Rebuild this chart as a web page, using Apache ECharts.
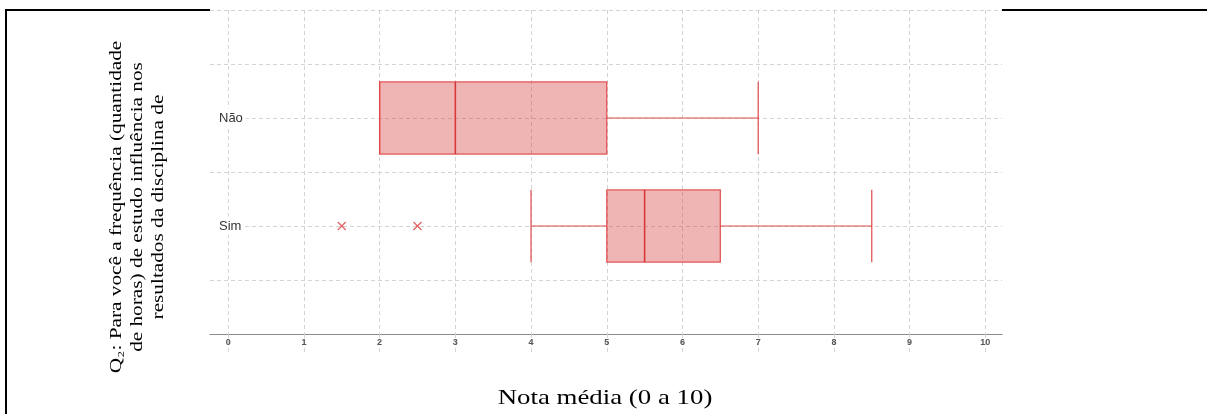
<!DOCTYPE html>
<html>
<head>
<meta charset="utf-8">
<script src="https://cdn.jsdelivr.net/npm/echarts@6/dist/echarts.min.js"></script>
<style>
html, body { margin: 0; padding: 0; background: #fff; }
#main { width: 1207px; height: 414px; }
</style>
</head>
<body>
<div id="main"></div>
<script>
// categorias (de baixo para cima)
var categories = ['Sim', 'Não'];
// [min, Q1, mediana, Q3, max] de cada categoria
var boxValues = [
    [4, 5, 5.5, 6.5, 8.5],
    [2, 2, 3, 5, 7]
];
// outliers: [indice da categoria, nota]
var outliers = [[0, 1.5], [0, 2.5]];
var xTicks = [0, 1, 2, 3, 4, 5, 6, 7, 8, 9, 10];
var yLabelPos = [1, 2];

var chart = echarts.init(document.getElementById('main'));

var gridColor = '#d4d4d4';
var dash = [4, 3];

function renderBox(params, api) {
    var yc = api.value(0);
    var p = function (v) { return api.coord([v, yc]); };
    var pMin = p(api.value(1)), pQ1 = p(api.value(2)), pMed = p(api.value(3));
    var pQ3 = p(api.value(4)), pMax = p(api.value(5));
    var y = pMin[1];
    var half = api.size([0, 1])[1] * 0.335;
    var lineStyle = { stroke: '#e04a4a', lineWidth: 1.2 };
    return {
        type: 'group',
        children: [
            { type: 'line', shape: { x1: pMin[0], y1: y, x2: pQ1[0], y2: y }, style: lineStyle },
            { type: 'line', shape: { x1: pQ3[0], y1: y, x2: pMax[0], y2: y }, style: lineStyle },
            { type: 'rect', shape: { x: pQ1[0], y: y - half, width: pQ3[0] - pQ1[0], height: half * 2 },
              style: { fill: 'rgba(210,40,40,0.35)', stroke: 'rgba(222,45,45,0.75)', lineWidth: 1.3 } },
            { type: 'line', shape: { x1: pMed[0], y1: y - half, x2: pMed[0], y2: y + half },
              style: { stroke: '#d63a3a', lineWidth: 1.6 } },
            { type: 'line', shape: { x1: pMin[0], y1: y - half, x2: pMin[0], y2: y + half }, style: lineStyle },
            { type: 'line', shape: { x1: pMax[0], y1: y - half, x2: pMax[0], y2: y + half }, style: lineStyle }
        ]
    };
}

function renderCross(params, api) {
    var c = api.coord([api.value(0), api.value(1)]);
    var s = 4;
    var st = { stroke: '#e05a5a', lineWidth: 1.1 };
    return {
        type: 'group',
        children: [
            { type: 'line', shape: { x1: c[0] - s, y1: c[1] - s, x2: c[0] + s, y2: c[1] + s }, style: st },
            { type: 'line', shape: { x1: c[0] - s, y1: c[1] + s, x2: c[0] + s, y2: c[1] - s }, style: st }
        ]
    };
}

var boxData = boxValues.map(function (b, i) { return [i + 1].concat(b); });
var outlierData = outliers.map(function (o) { return [o[1], o[0] + 1]; });

var option = {
    animation: false,
    backgroundColor: '#fff',
    grid: { left: 210, right: 205, top: 10, bottom: 80 },
    xAxis: {
        type: 'value',
        min: -0.24,
        max: 10.22,
        axisLine: { show: true, onZero: false, lineStyle: { color: '#8c8c8c', width: 1.2 } },
        axisTick: { show: true, customValues: xTicks, length: 21, lineStyle: { color: gridColor, type: dash } },
        axisLabel: { customValues: xTicks, fontSize: 9, fontWeight: 'bold', color: '#555',
                     margin: 4, fontFamily: 'Liberation Sans' },
        splitLine: { show: true, lineStyle: { color: gridColor, type: dash } }
    },
    yAxis: {
        type: 'value',
        min: 0,
        max: 3,
        interval: 0.5,
        axisLine: { show: false },
        axisTick: { show: false },
        axisLabel: {
            inside: true,
            margin: 0,
            customValues: yLabelPos,
            formatter: function (v) { return categories[Math.round(v) - 1]; },
            backgroundColor: '#fff',
            padding: [3, 3, 3, 9],
            fontSize: 13,
            color: '#333',
            fontFamily: 'Liberation Sans'
        },
        splitLine: { show: true, lineStyle: { color: gridColor, type: dash } }
    },
    series: [
        { type: 'custom', renderItem: renderBox, data: boxData, z: 3,
          encode: { x: [1, 2, 3, 4, 5], y: 0 } },
        { type: 'custom', renderItem: renderCross, data: outlierData, z: 3,
          encode: { x: 0, y: 1 } }
    ],
    graphic: [
        // moldura
        { type: 'line', shape: { x1: 5, y1: 10, x2: 210, y2: 10 }, style: { stroke: '#000', lineWidth: 2 } },
        { type: 'line', shape: { x1: 1002, y1: 10, x2: 1207, y2: 10 }, style: { stroke: '#000', lineWidth: 2 } },
        { type: 'line', shape: { x1: 6, y1: 9, x2: 6, y2: 414 }, style: { stroke: '#000', lineWidth: 2 } },
        {
            type: 'text',
            x: 138, y: 207,
            rotation: Math.PI / 2,
            scaleX: 1.25,
            style: {
                text: 'Q₂: Para você a frequência (quantidade\nde horas) de estudo influência nos\nresultados da disciplina de',
                font: '17px "Liberation Serif"',
                lineHeight: 21,
                textAlign: 'center',
                textVerticalAlign: 'middle',
                fill: '#000'
            }
        },
        {
            type: 'text',
            x: 605, y: 398,
            scaleX: 1.22,
            style: {
                text: 'Nota média (0 a 10)',
                font: '22px "Liberation Serif"',
                textAlign: 'center',
                textVerticalAlign: 'middle',
                fill: '#000'
            }
        }
    ]
};

chart.setOption(option);
</script>
</body>
</html>
